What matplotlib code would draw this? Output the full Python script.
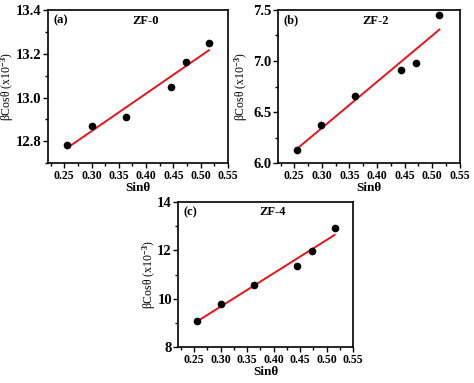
import numpy as np
import matplotlib
matplotlib.use('Agg')
import matplotlib.pyplot as plt
from matplotlib.ticker import MultipleLocator

plt.rcParams['font.family'] = ['Liberation Serif', 'DejaVu Serif']
plt.rcParams['font.weight'] = 'bold'
plt.rcParams['mathtext.fontset'] = 'custom'
plt.rcParams['mathtext.rm'] = 'Liberation Serif'
plt.rcParams['mathtext.it'] = 'Liberation Serif'
plt.rcParams['mathtext.bf'] = 'Liberation Serif:bold'

# data
sin_a = [0.255, 0.300, 0.363, 0.445, 0.473, 0.515]
bcos_a = [12.785, 12.87, 12.91, 13.05, 13.16, 13.25]
sin_b = [0.255, 0.298, 0.360, 0.443, 0.470, 0.513]
bcos_b = [6.13, 6.37, 6.66, 6.91, 6.985, 7.45]
sin_c = [0.255, 0.300, 0.363, 0.445, 0.473, 0.515]
bcos_c = [9.07, 9.78, 10.57, 11.35, 11.97, 12.92]

panels = [
    # tag, name, x, y, axes rect, ylim, y major, y minor, ylabel x
    ('(a)', 'ZF-0', sin_a, bcos_a, [0.101, 0.574, 0.380, 0.400], (12.7, 13.4), 0.2, 0.1, -0.175),
    ('(b)', 'ZF-2', sin_b, bcos_b, [0.586, 0.574, 0.384, 0.400], (6.0, 7.5), 0.5, 0.25, -0.15),
    ('(c)', 'ZF-4', sin_c, bcos_c, [0.376, 0.093, 0.369, 0.380], (8, 14), 2, 1, -0.115),
]

fig = plt.figure(figsize=(4.74, 3.83), dpi=100)

for tag, name, x, y, rect, ylim, ymaj, ymin, ylx in panels:
    ax = fig.add_axes(rect)
    x = np.array(x)
    y = np.array(y)
    k, b = np.polyfit(x, y, 1)
    ax.plot(x, k * x + b, color='#e8141a', lw=1.4, zorder=2)
    ax.plot(x, y, 'o', color='black', ms=4.5, zorder=3)

    ax.set_xlim(0.22, 0.55)
    ax.set_ylim(*ylim)
    ax.xaxis.set_minor_locator(MultipleLocator(0.025))
    ax.yaxis.set_major_locator(MultipleLocator(ymaj))
    ax.yaxis.set_minor_locator(MultipleLocator(ymin))
    xt = np.arange(0.25, 0.551, 0.05)
    ax.set_xticks(xt)
    ax.set_xticklabels(['%.2f' % v for v in xt])
    if ymaj < 1:
        ax.set_yticklabels(['%.1f' % v for v in ax.get_yticks()])
    ax.tick_params(which='major', direction='out', length=3.5, width=1, pad=1.5)
    ax.tick_params(which='minor', direction='out', length=2, width=1)
    ax.tick_params(axis='x', labelsize=8.5)
    ax.tick_params(axis='y', labelsize=10.5, pad=1)
    for sp in ax.spines.values():
        sp.set_linewidth(1.2)
    for lbl in ax.get_xticklabels() + ax.get_yticklabels():
        lbl.set_fontweight('bold')

    ax.set_xlabel('Sinθ', fontsize=9.5, fontweight='bold', labelpad=0)
    ax.set_ylabel(r'βCosθ (x10$^{-3}$)', fontsize=8.5, fontweight='normal')
    ax.yaxis.set_label_coords(ylx, 0.5)
    ax.text(0.03, 0.97, tag, transform=ax.transAxes, ha='left', va='top',
            fontsize=9, fontweight='bold')
    ax.text(0.54, 0.97, name, transform=ax.transAxes, ha='center', va='top',
            fontsize=9, fontweight='bold')

fig.savefig('out.png', dpi=100)
